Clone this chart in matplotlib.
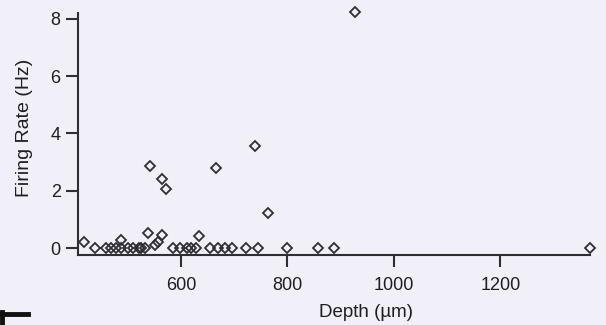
import matplotlib
matplotlib.use("Agg")
import matplotlib.pyplot as plt
from matplotlib.lines import Line2D

# Purkinje cell complex-spike firing rate versus recording depth
depth_um = [419, 438, 460, 469, 478, 487, 488, 500, 511, 522, 526, 532,
            539, 551, 557, 564, 586, 598, 611, 620, 629, 634, 654, 669,
            683, 696, 723, 745, 800, 858, 888, 1368,
            542, 565, 572, 666, 739, 763, 927]
rate_hz = [0.23, 0.0, 0.0, 0.0, 0.0, 0.29, 0.0, 0.0, 0.0, 0.0, 0.0, 0.0,
           0.52, 0.12, 0.23, 0.47, 0.0, 0.0, 0.0, 0.0, 0.0, 0.42, 0.0, 0.0,
           0.0, 0.0, 0.0, 0.0, 0.0, 0.0, 0.0, 0.0,
           2.87, 2.40, 2.06, 2.78, 3.57, 1.22, 8.23]

x_ticks = [600, 800, 1000, 1200]
y_ticks = [0, 2, 4, 6, 8]

bg = "#f1f0f8"
ink = "#2e2e33"
text_ink = "#1e1e22"

plt.rcParams["font.family"] = ["Liberation Sans", "DejaVu Sans"]

fig = plt.figure(figsize=(6.06, 3.25), dpi=100, facecolor=bg)
ax = fig.add_axes([78 / 606, 70 / 325, 512 / 606, 242 / 325])
ax.set_facecolor(bg)

ax.plot(depth_um, rate_hz, linestyle="none", marker="D", markersize=4.6,
        markerfacecolor="none", markeredgecolor=ink, markeredgewidth=1.3,
        clip_on=False, zorder=3)

ax.set_xlim(407, 1368)
ax.set_ylim(-0.24, 8.2)
ax.set_xticks(x_ticks)
ax.set_yticks(y_ticks)

for side in ("top", "right"):
    ax.spines[side].set_visible(False)
for side in ("left", "bottom"):
    ax.spines[side].set_color(ink)
    ax.spines[side].set_linewidth(1.5)

ax.tick_params(axis="both", direction="out", length=8.5, width=1.5,
               color=ink, labelcolor=text_ink, labelsize=13)
ax.tick_params(axis="x", pad=7)
ax.tick_params(axis="y", pad=4)

ax.set_xlabel("Depth (\u00b5m)", fontsize=13.5, color=text_ink)
ax.xaxis.set_label_coords((366 - 78) / 512, -(304 - 255) / 242)
ax.set_ylabel("Firing Rate (Hz)", fontsize=14, color=text_ink)
ax.yaxis.set_label_coords(-(78 - 33) / 512, (255 - 128) / 242)

# corner bracket of the neighbouring panel
fig.add_artist(Line2D([0 / 606, 28 / 606], [1 - 314 / 325, 1 - 314 / 325],
                      color="#111111", linewidth=3.5, transform=fig.transFigure))
fig.add_artist(Line2D([2 / 606, 2 / 606], [1 - 312 / 325, 0],
                      color="#111111", linewidth=3.5, transform=fig.transFigure))

fig.savefig("out.png", dpi=100, facecolor=bg)
